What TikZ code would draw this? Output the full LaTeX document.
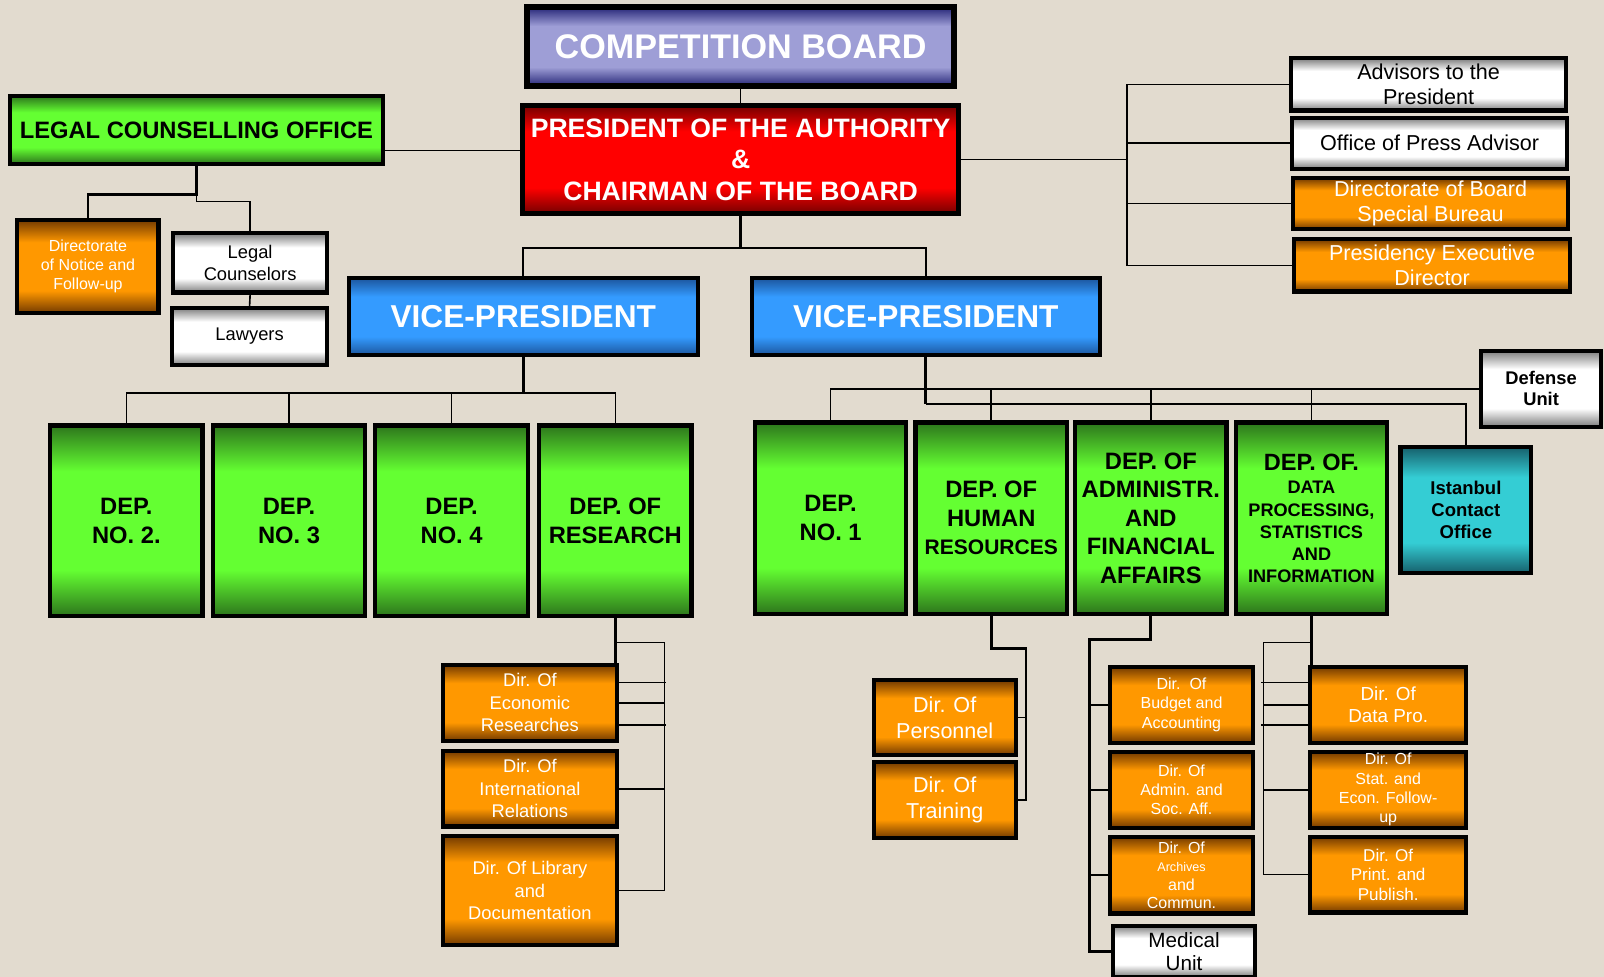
\documentclass[tikz,border=0pt]{standalone}
\usepackage{tikz}
\usepackage{fontspec}
\setmainfont{Liberation Sans}
\usetikzlibrary{calc}

\definecolor{paper}{RGB}{226,219,207}
\definecolor{bddark}{RGB}{38,38,120}
\definecolor{bdlight}{RGB}{158,158,214}
\definecolor{rddark}{RGB}{115,0,0}
\definecolor{rdlight}{RGB}{255,0,0}
\definecolor{grdark}{RGB}{45,118,28}
\definecolor{grlight}{RGB}{100,255,50}
\definecolor{bldark}{RGB}{28,86,158}
\definecolor{bllight}{RGB}{52,155,255}
\definecolor{ordark}{RGB}{115,58,0}
\definecolor{orlight}{RGB}{255,152,0}
\definecolor{svdark}{RGB}{125,125,125}
\definecolor{svlight}{RGB}{255,255,255}
\definecolor{tldark}{RGB}{22,96,108}
\definecolor{tllight}{RGB}{52,205,212}

\newcommand\boxshade[3]{\pgfdeclareverticalshading{#1}{100bp}{color(0bp)=(#2); color(25bp)=(#2); color(37bp)=(#3); color(63bp)=(#3); color(75bp)=(#2); color(100bp)=(#2)}}
\boxshade{boardshade}{bddark}{bdlight}
\boxshade{redshade}{rddark}{rdlight}
\boxshade{greenshade}{grdark}{grlight}
\boxshade{blueshade}{bldark}{bllight}
\boxshade{orangeshade}{ordark}{orlight}
\boxshade{silvershade}{svdark}{svlight}
\boxshade{tealshade}{tldark}{tllight}

\begin{document}
\begin{tikzpicture}[x=0.02cm,y=-0.02cm,line join=miter,
  sz/.style 2 args={minimum width=#1*0.02cm,minimum height=#2*0.02cm},
  box/.style={draw=black,line width=2.3pt,inner sep=0pt,align=center},
  boardbox/.style={box,line width=3.4pt,shading=boardshade,text=white,font=\fontsize{19}{22}\selectfont\bfseries},
  redbox/.style={box,line width=2.8pt,shading=redshade,text=white,font=\fontsize{14.8}{17.6}\selectfont\bfseries},
  greenbox/.style={box,shading=greenshade,text=black,font=\fontsize{13.2}{15.9}\selectfont\bfseries},
  bluebox/.style={box,shading=blueshade,text=white,font=\fontsize{17.6}{20}\selectfont\bfseries},
  orangebox/.style={box,shading=orangeshade,text=white},
  silverbox/.style={box,shading=silvershade,text=black},
  tealbox/.style={box,shading=tealshade,text=black,font=\fontsize{10.3}{12.2}\selectfont\bfseries},
  link/.style={line width=0.9pt},
  trunk/.style={line width=1.5pt}]
\clip (0,0) rectangle (1568,955);
\fill[paper] (0,0) rectangle (1568,955);

% board and president
\node[boardbox,sz={418}{77}] (board) at (724,45.5) {COMPETITION BOARD};
\node[redbox,sz={426}{106}] (president) at (724,156) {PRESIDENT OF THE AUTHORITY\\\&\\CHAIRMAN OF THE BOARD};
\node[greenbox,sz={364}{66},font=\fontsize{13.2}{15}\selectfont\bfseries] (legal) at (192,127) {LEGAL COUNSELLING OFFICE};
\node[orangebox,sz={138}{91},font=\fontsize{8.9}{10.5}\selectfont] (notice) at (86,260.5) {Directorate\\of Notice and\\Follow-up};
\node[silverbox,sz={151}{58},font=\fontsize{10.2}{11.9}\selectfont] (counselors) at (244.5,257) {Legal\\Counselors};
\node[silverbox,sz={152}{56},font=\fontsize{10.2}{12}\selectfont] (lawyers) at (244,329) {Lawyers};

\node[bluebox,sz={341}{75}] (vp1) at (511.5,309.5) {VICE-PRESIDENT};
\node[bluebox,sz={340}{75}] (vp2) at (905,309.5) {VICE-PRESIDENT};

% advisers of the president
\node[silverbox,sz={269}{51},font=\fontsize{12}{14.2}\selectfont] (advisors) at (1396.5,82.5) {Advisors to the\\President};
\node[silverbox,sz={269}{50},font=\fontsize{12}{14.2}\selectfont] (press) at (1397.5,140) {Office of Press Advisor};
\node[orangebox,sz={269}{50},font=\fontsize{12}{13.6}\selectfont] (bureau) at (1398.5,199) {Directorate of Board\\Special Bureau};
\node[orangebox,sz={270}{51},font=\fontsize{12}{14.2}\selectfont] (presidency) at (1400,259.5) {Presidency Executive\\Director};

% departments
\node[greenbox,sz={149}{186}] (dep2) at (123.5,509) {DEP.\\NO. 2.};
\node[greenbox,sz={149}{186}] (dep3) at (282.5,509) {DEP.\\NO. 3};
\node[greenbox,sz={149}{186}] (dep4) at (441.5,509) {DEP.\\NO. 4};
\node[greenbox,sz={149}{186}] (research) at (601.5,509) {DEP. OF\\RESEARCH};

\node[greenbox,sz={148}{187}] (dep1) at (812,506.5) {DEP.\\NO. 1};
\node[greenbox,sz={148}{187}] (human) at (969,506.5) {DEP. OF\\HUMAN\\{\fontsize{11.7}{15.6}\selectfont RESOURCES}};
\node[greenbox,sz={148}{187}] (admin) at (1125,506.5) {DEP. OF\\ADMINISTR.\\AND\\FINANCIAL\\AFFAIRS};
\node[greenbox,sz={148}{187},font=\fontsize{10.1}{12.3}\selectfont\bfseries] (data) at (1282,506.5) {{\fontsize{13.1}{15}\selectfont DEP. OF.}\\[1pt]DATA\\PROCESSING,\\STATISTICS\\AND\\INFORMATION};
\node[tealbox,sz={128}{123}] (istanbul) at (1433,498.5) {Istanbul\\Contact\\Office};
\node[silverbox,sz={117}{74},font=\fontsize{10.2}{11.9}\selectfont\bfseries] (defense) at (1506.5,380) {Defense\\Unit};

% directorates
\node[orangebox,sz={170}{74},font=\fontsize{10.2}{12.5}\selectfont] (econ) at (518,687) {Dir. Of\\Economic\\Researches};
\node[orangebox,sz={170}{74},font=\fontsize{10.2}{12.5}\selectfont] (intl) at (518,771) {Dir. Of\\International\\Relations};
\node[orangebox,sz={170}{107},font=\fontsize{10.2}{12.5}\selectfont] (library) at (518,870.5) {Dir. Of Library\\and\\Documentation};

\node[orangebox,sz={139}{73},font=\fontsize{12}{14.5}\selectfont] (personnel) at (923.5,701.5) {Dir. Of\\Personnel};
\node[orangebox,sz={139}{74},font=\fontsize{12}{14.5}\selectfont] (training) at (923.5,782) {Dir. Of\\Training};

\node[orangebox,sz={140}{74},font=\fontsize{8.9}{10.7}\selectfont] (budget) at (1155,689) {Dir.\ \ Of\\Budget and\\Accounting};
\node[orangebox,sz={140}{74},font=\fontsize{8.9}{10.7}\selectfont] (adminaff) at (1155,772) {Dir. Of\\Admin. and\\Soc. Aff.};
\node[orangebox,sz={140}{75},font=\fontsize{8.9}{10.2}\selectfont] (archives) at (1155,855.5) {Dir. Of\\{\fontsize{7}{10.2}\selectfont Archives}\\and\\Commun.};
\node[silverbox,sz={139}{50},font=\fontsize{11.5}{13}\selectfont] (medical) at (1157.5,930) {Medical\\Unit};

\node[orangebox,sz={152}{74},font=\fontsize{10.5}{12.5}\selectfont] (datapro) at (1357,689) {Dir. Of\\Data Pro.};
\node[orangebox,sz={152}{74},font=\fontsize{8.9}{10.8}\selectfont] (stat) at (1357,772) {Dir. Of\\Stat. and\\Econ. Follow-\\up};
\node[orangebox,sz={152}{74},font=\fontsize{9.5}{10.8}\selectfont] (print) at (1357,855) {Dir. Of\\Print. and\\Publish.};

% connectors at the top
\draw[link] (board.south) -- (president.north);
\draw[link] (legal.east) ++(0,20) coordinate (lp) -- (lp -| president.west);
\draw[trunk] (legal.south) -- ++(0,28) -| (notice.north);
\draw[link] (legal.south) -- ++(0,35) -| (counselors.north);
\draw[link] (counselors.south) -- (lawyers.north);
\draw[trunk] (president.south) -- ++(0,31) coordinate (pv);
\draw[link] (vp1.north) |- (pv) -| (vp2.north);
\draw[link] (president.east) -- ++(162,0) coordinate (pr);
\draw[link] (advisors.west) -| (pr) |- (presidency.west);
\draw[link] (press.west) -- (press.west -| pr);
\draw[link] (bureau.west) -- (bureau.west -| pr);

% first vice-president
\draw[trunk] (vp1.south) -- ++(0,35) coordinate (v1);
\draw[link] (dep2.north) |- (v1) -| (research.north);
\draw[link] (dep3.north) -- (dep3.north |- v1);
\draw[link] (dep4.north) -- (dep4.north |- v1);

% second vice-president
\draw[trunk] (vp2.south) -- ++(0,33) coordinate (v2) -- ++(0,13) coordinate (v3);
\draw[link] (dep1.north) |- (defense.west);
\draw[link] (human.north) -- (human.north |- defense.west);
\draw[link] (admin.north) -- (admin.north |- defense.west);
\draw[link] (data.north) -- (data.north |- defense.west);
\draw[link] (v3) -| (istanbul.north);

% directorates
\draw[trunk] (research.south) -- (research.south |- econ.north);
\draw[link] (research.south) ++(0,24) -- ++(48,0) coordinate (rr) |- (library.east);
\draw[link] (econ.east) -- (econ.east -| rr);
\draw[link] (econ.east) ++(0,-20) -- ++(46.5,0);
\draw[link] (econ.east) ++(0,22) -- ++(46.5,0);
\draw[link] (intl.east) -- (intl.east -| rr);

\draw[trunk] (human.south) -- ++(0,32) -- ++(34,0) coordinate (hh) |- (training.east);
\draw[link] (personnel.east) -- (personnel.east -| hh);

\draw[trunk] (admin.south) -- ++(0,23) -- ++(-60,0) coordinate (aa) |- (medical.west);
\draw[link] (budget.west) -- (budget.west -| aa);
\draw[link] (adminaff.west) -- (adminaff.west -| aa);
\draw[link] (archives.west) -- (archives.west -| aa);

\draw[trunk] (data.south) -- (data.south |- datapro.north);
\draw[link] (data.south) ++(0,26) -- ++(-47,0) coordinate (dd) |- (print.west);
\draw[link] (datapro.west) -- (datapro.west -| dd);
\draw[link] (datapro.west) ++(0,-22) -- ++(-46,0);
\draw[link] (datapro.west) ++(0,20) -- ++(-46,0);
\draw[link] (stat.west) -- (stat.west -| dd);
\end{tikzpicture}
\end{document}
